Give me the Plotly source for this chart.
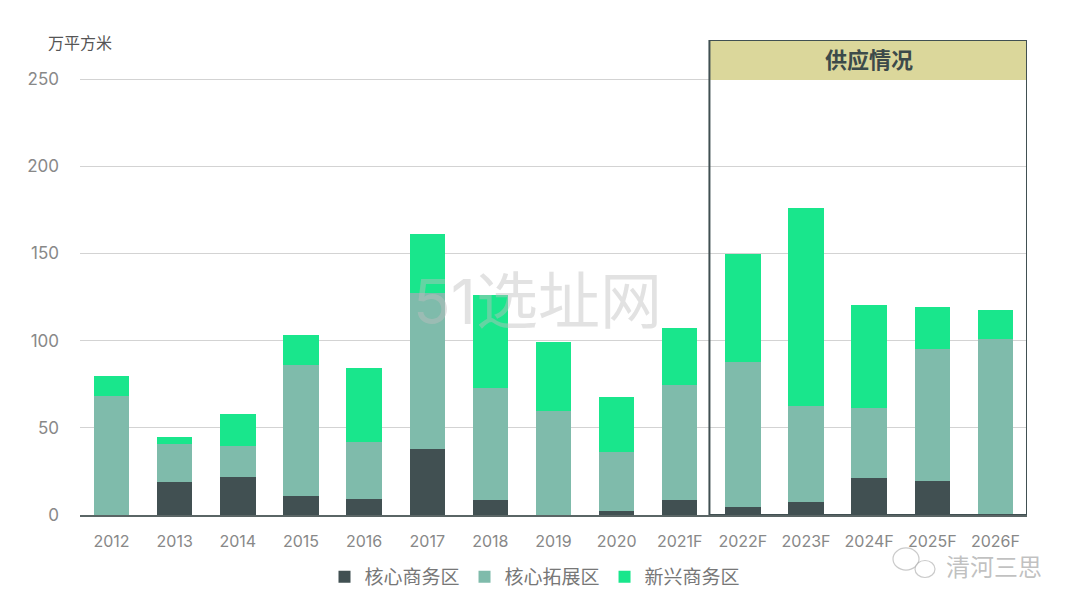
import plotly.graph_objects as go

categories = ["2012", "2013", "2014", "2015", "2016", "2017", "2018", "2019", "2020",
              "2021F", "2022F", "2023F", "2024F", "2025F", "2026F"]
core_cbd = [0, 19, 22, 11, 9, 38, 8.8, 0, 2.5, 8.6, 4.8, 7.6, 21.5, 19.6, 0]
core_ext = [68, 22, 17.5, 75, 33, 89.4, 63.8, 59.7, 33.5, 65.8, 83.2, 55.1, 39.7, 75.7, 101.2]
emerging = [11.5, 4, 18.5, 17.5, 42.5, 33.6, 53.4, 39.3, 31.7, 32.6, 62, 113.7, 59.3, 23.9, 16.6]
series_names = ["核心商务区", "核心拓展区", "新兴商务区"]
colors = ["#415052", "#7FBBAB", "#19E68C"]

FONT = "Inter, 'Noto Sans CJK SC', sans-serif"

# page has an 8px body margin; figure is sized to fit inside the 1080x604 window
OFF = 8
W, H = 1072, 596
ml, mr, mt, mb = 72, 53, 32, 89
PW, PH = W - ml - mr, H - mt - mb


def px(x, y):
    """page pixel -> paper coords"""
    return (x - OFF - ml) / PW, (H - mb - (y - OFF)) / PH


fig = go.Figure()
for name, vals, c in zip(series_names, [core_cbd, core_ext, emerging], colors):
    fig.add_trace(go.Bar(x=categories, y=vals, name=name, marker=dict(color=c, line=dict(width=0))))

# supply box (forecast region)
fig.add_shape(type="rect", xref="x", yref="y", x0=9.47, x1=14.5, y0=249.5, y1=272.5,
              fillcolor="#DBD79B", line=dict(width=0), layer="above")
fig.add_shape(type="rect", xref="x", yref="y", x0=9.47, x1=14.5, y0=0, y1=272.5,
              fillcolor="rgba(0,0,0,0)", line=dict(color="#415052", width=2), layer="above")
fig.add_annotation(x=12, y=261, xref="x", yref="y", text="<b>供应情况</b>", showarrow=False,
                   font=dict(size=22, color="#3C4A4A", family=FONT))

# unit label
ux, uy = px(80, 43)
fig.add_annotation(x=ux, y=uy, xref="paper", yref="paper", xanchor="center", yanchor="middle",
                   text="万平方米", showarrow=False,
                   font=dict(size=16, color="#555555", family=FONT))

# watermarks
wx, wy = px(537, 301)
fig.add_annotation(x=wx, y=wy, xref="paper", yref="paper", xanchor="center", yanchor="middle",
                   text="51选址网", showarrow=False,
                   font=dict(size=62, color="rgba(190,190,190,0.45)", family=FONT))
qx, qy = px(994, 567)
fig.add_annotation(x=qx, y=qy, xref="paper", yref="paper", xanchor="center", yanchor="middle",
                   text="清河三思", showarrow=False,
                   font=dict(size=24, color="rgba(140,140,140,0.55)", family=FONT))
# wechat-style bubble icon outline
for cx, cy, r in [(906, 559, 13), (925, 569, 10)]:
    x0, y0 = px(cx - r, cy - r * 0.85)
    x1, y1 = px(cx + r, cy + r * 0.85)
    fig.add_shape(type="circle", xref="paper", yref="paper", x0=x0, x1=x1, y0=y0, y1=y1,
                  line=dict(color="rgba(150,150,150,0.5)", width=1.2), fillcolor="rgba(255,255,255,0.6)")

lx, ly = px(535, 577)
fig.update_layout(
    barmode="stack",
    bargap=0.44,
    width=W, height=H,
    margin=dict(l=ml, r=mr, t=mt, b=mb, autoexpand=False),
    plot_bgcolor="white", paper_bgcolor="white",
    font=dict(family=FONT, color="#888888"),
    showlegend=True,
    legend=dict(orientation="h", x=lx, xanchor="center", y=ly, yanchor="middle",
                font=dict(size=19, color="#777777"), traceorder="normal"),
    xaxis=dict(type="category", showgrid=False, showline=True, linecolor="#5A6565", linewidth=1.5,
               tickfont=dict(size=16, color="#888888"), ticks="", range=[-0.5, 14.5],
               ticklabelstandoff=11),
    yaxis=dict(range=[0, 272.5], tickvals=[0, 50, 100, 150, 200, 250], showgrid=True,
               gridcolor="#D3D3D3", gridwidth=1, zeroline=False, showline=False,
               tickfont=dict(size=17, color="#888888"), ticklabelstandoff=20),
)

fig.write_html("out.html")
